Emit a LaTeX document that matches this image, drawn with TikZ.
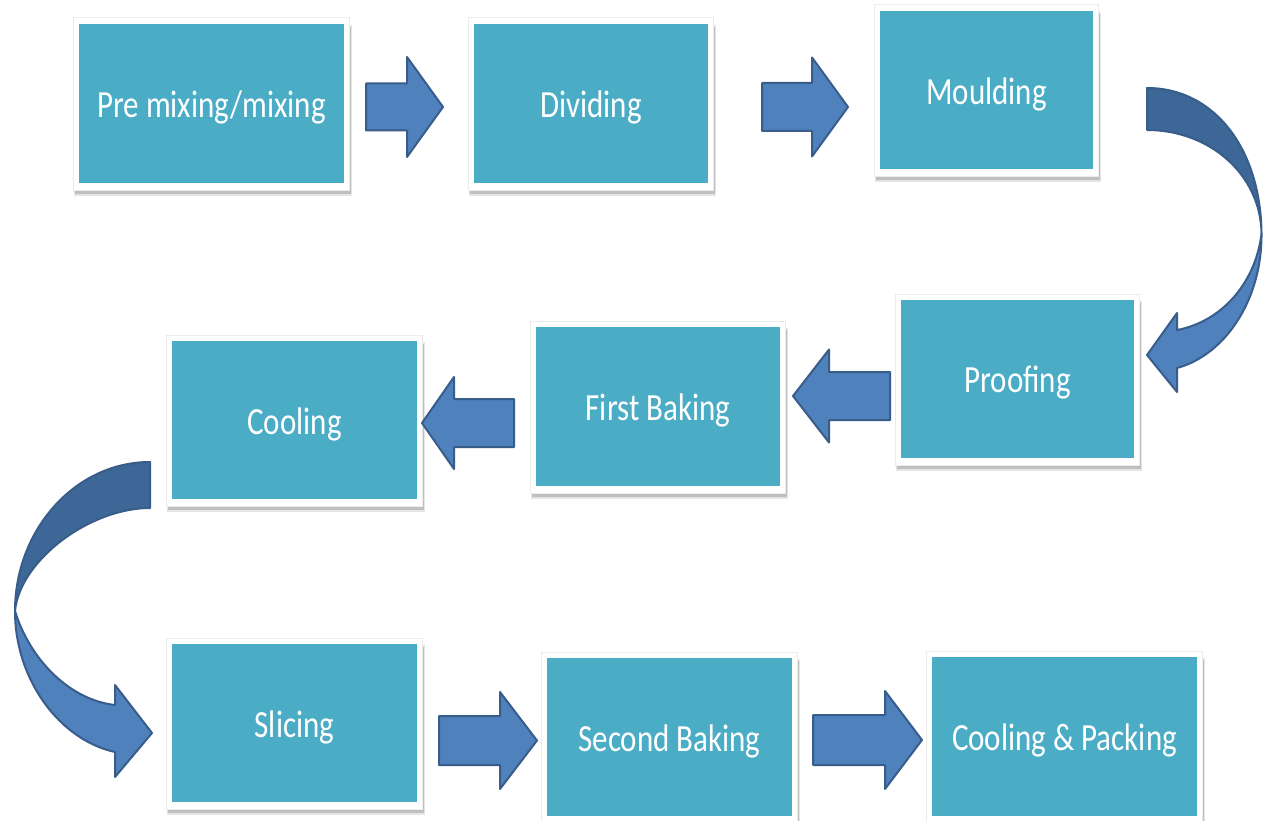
\documentclass[tikz,border=0pt]{standalone}
\usepackage{fontspec}
\setmainfont{Carlito}
\usetikzlibrary{calc}
\definecolor{teal}{HTML}{4BACC6}
\definecolor{arrfill}{HTML}{4F81BD}
\definecolor{arrdraw}{HTML}{385D8A}
\definecolor{arrdark}{HTML}{3D6797}
\pgfdeclarelayer{canvas}
\pgfdeclarelayer{bg}
\pgfsetlayers{canvas,bg,main}
\tikzset{
  stepbox/.style={rectangle, fill=teal, inner sep=0pt, text=white,
    font=\fontsize{31}{36}\selectfont},
  blockarrow/.style={fill=arrfill, draw=arrdraw, line width=2pt, line join=round},
  darkband/.style={fill=arrdark, draw=arrdraw, line width=2pt, line join=round},
}
\newcommand{\stretchtext}[1]{\raisebox{-4pt}[\height][\depth]{\scalebox{1}[1.24]{#1}}}
% tail x, head base x, tip x, centre y, shaft half height, head half height
\newcommand{\blockarr}[6]{%
  \path[blockarrow] (#1,#4-#5) -- (#2,#4-#5) -- (#2,#4-#6) -- (#3,#4)
    -- (#2,#4+#6) -- (#2,#4+#5) -- (#1,#4+#5) -- cycle;}
\begin{document}
\begin{tikzpicture}[x=1pt,y=-1pt]
\begin{pgfonlayer}{canvas}
\fill[white] (0,0) rectangle (1265,821);
\end{pgfonlayer}
\useasboundingbox (0,0) rectangle (1265,821);

\node[stepbox, minimum width=265pt, minimum height=159pt] (b1) at (211.5,103.5) {\stretchtext{Pre mixing/mixing}};
\node[stepbox, minimum width=234pt, minimum height=159pt] (b2) at (591,103.5) {\stretchtext{Dividing}};
\node[stepbox, minimum width=213pt, minimum height=158pt] (b3) at (986.5,90) {\stretchtext{Moulding}};
\node[stepbox, minimum width=233pt, minimum height=158pt] (b4) at (1017.5,379) {\stretchtext{Proofing}};
\node[stepbox, minimum width=244pt, minimum height=159pt] (b5) at (658,406.5) {\stretchtext{First Baking}};
\node[stepbox, minimum width=245pt, minimum height=158pt] (b6) at (294.5,420) {\stretchtext{Cooling}};
\node[stepbox, minimum width=245pt, minimum height=158pt] (b7) at (294.5,723) {\stretchtext{Slicing}};
\node[stepbox, minimum width=245pt, minimum height=158pt] (b8) at (669.5,737) {\stretchtext{Second Baking}};
\node[stepbox, minimum width=265pt, minimum height=159pt] (b9) at (1064.5,736.5) {\stretchtext{Cooling \& Packing}};

\begin{pgfonlayer}{bg}
\foreach \b in {b1,b2,b3,b4,b5,b6,b7,b8,b9}{
  \fill[black!10] ([xshift=-5pt,yshift=-13pt]\b.south west) rectangle ([xshift=8pt,yshift=-1pt]\b.north east);
  \fill[black!25] ([xshift=-4pt,yshift=-11pt]\b.south west) rectangle ([xshift=6.5pt,yshift=-3pt]\b.north east);
  \filldraw[white, draw=black!8, line width=0.6pt] ([xshift=-6pt,yshift=-7pt]\b.south west) rectangle ([xshift=5pt,yshift=6pt]\b.north east);
}
\end{pgfonlayer}

% straight block arrows
\blockarr{366}{407}{443}{107}{23.5}{50}
\blockarr{762}{812}{848}{107}{24}{49.5}
\blockarr{890}{829}{793}{396}{24}{46.5}
\blockarr{514}{454}{422}{423}{24}{46}
\blockarr{439}{500}{537}{740.5}{24.5}{48.5}
\blockarr{813}{885}{922}{740}{25}{49}

% curved arrow: Moulding -> Proofing
\path[darkband] (1147,88) .. controls (1215,88) and (1261,150) .. (1261.5,234)
  .. controls (1261,175) and (1210,130) .. (1147,130) -- cycle;
\path[blockarrow] (1261.5,234) .. controls (1262,300) and (1225,355) .. (1177,368)
  -- (1177,392) -- (1147,355) -- (1177,313) -- (1177,330)
  .. controls (1220,322) and (1255,285) .. (1261.5,234) -- cycle;

% curved arrow: Cooling -> Slicing
\path[darkband] (150,462) .. controls (75,462) and (15,530) .. (15,611)
  .. controls (20,560) and (90,508) .. (150,508) -- cycle;
\path[blockarrow] (15,611) .. controls (15,680) and (60,740) .. (115,752)
  -- (115,777) -- (152,733) -- (115,685) -- (115,705)
  .. controls (70,700) and (30,660) .. (15,611) -- cycle;
\end{tikzpicture}
\end{document}
